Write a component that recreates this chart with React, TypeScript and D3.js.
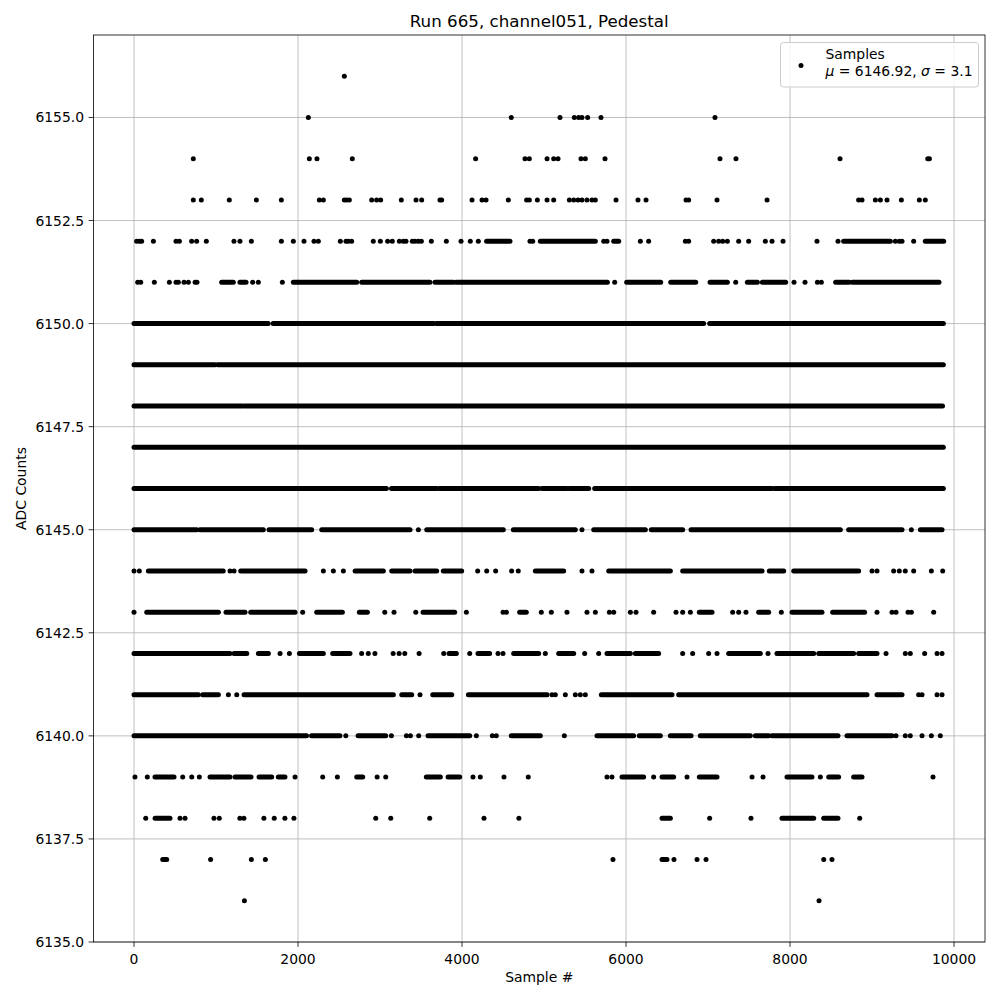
import React from "react";
import * as d3 from "d3";

// a sample entry is either one sample index or a run [first, last] of consecutive samples at that level
type Pt = number | [number, number];

const title = "Run 665, channel051, Pedestal";
const xLabel = "Sample #";
const yLabel = "ADC Counts";
const legendName = "Samples";
const mu = "6146.92";
const sigma = "3.1";

const xTicks = [0, 2000, 4000, 6000, 8000, 10000];
const yTicks = [6135, 6137.5, 6140, 6142.5, 6145, 6147.5, 6150, 6152.5, 6155];

const lvl6156: Pt[] = [2565];
const lvl6155: Pt[] = [2126, 4601, 5195, 5370, 5423, 5463, 5532, 5695, 7085];
const lvl6154: Pt[] = [723, 2138, 2231, 2662, 4166, 4768, 4821, 5037, 5118, 5171, 5451, 5504, 5744, 7146, 7341, 8610, [9680, 9700]];
const lvl6153: Pt[] = [723, 821, 1162, 1492, 1797, 2260, 2309, 2565, 2593, 2626, 2898, 2959, 3008, 3260, 3439, 3508, 3731, 3752,
  4122, 4244, 4293, 4565, 4788, 4821, 4919, 5037, 5118, 5309, 5362, 5415, 5463, 5524, 5585, 5626, 5878, 6146, 6244, 6732, 6764,
  7110, 7720, 8837, 8878, 9041, 9102, 9183, 9358, 9577, 9650];
const lvl6152: Pt[] = [32, 65, 93, 236, 512, 553, 703, 764, 882, 1219, 1292, 1431, 1797, 1943, 2073, 2195, 2248, 2516, 2585, 2614,
  2654, 2918, 3004, 3093, 3150, 3236, 3284, 3317, 3394, 3427, 3467, 3504, 3626, 3809, 3988, 4101, 4199, [4300, 4585], 4829, 4862,
  [4955, 5626], 5728, 5768, [5850, 5911], 6175, 6276, 6724, 6764, 7069, 7130, 7179, 7236, 7374, 7496, 7699, 7781, 7915, 8329, 8585,
  [8654, 9224], 9284, 9333, 9366, 9508, [9650, 9874]];
const lvl6151: Pt[] = [45, 82, 248, 431, 512, 541, 610, 663, 745, 768, [1069, 1211], [1292, 1366], 1447, 1516, 1809, [1943, 2716],
  [2777, 3610], [3671, 3894], [3927, 5773], 5862, [6008, 6423], [6545, 6850], [7025, 7236], 7338, [7480, 7602], [7663, 7947], 8049,
  8183, 8334, 8382, [8557, 8720], [8760, 9817]];
const lvl6150: Pt[] = [[0, 1636], [1697, 3655], [3688, 6947], [7020, 9870]];
const lvl6149: Pt[] = [[0, 990], [1020, 9870]];
const lvl6148: Pt[] = [[0, 1320], [1345, 9860]];
const lvl6147: Pt[] = [[0, 9870]];
const lvl6146: Pt[] = [[0, 2489], [2510, 3078], [3140, 3688], [3720, 4935], [4976, 5280], [5309, 5545], [5618, 7780], [7813, 9870]];
const lvl6145: Pt[] = [[0, 765], [805, 1577], [1647, 2167], [2289, 3366], 3468, [3570, 4504], [4626, 5382], 5463, [5606, 6236],
  [6309, 6691], [6793, 8614], [8715, 9366], 9480, [9590, 9854]];
const lvl6144: Pt[] = [0, 65, [175, 1088], 1171, 1220, [1301, 2086], 2309, 2431, 2553, [2696, 3041], [3143, 3366], [3427, 3691],
  [3772, 3996], 4191, 4301, 4410, 4605, 4686, [4894, 5240], 5463, 5585, [5789, 6541], [6691, 7659], [7748, 7923], [8045, 8837],
  9000, 9061, 9264, 9333, 9406, 9508, 9724, 9862];
const lvl6143: Pt[] = [0, [155, 1029], [1122, 1354], [1423, 1964], 2057, [2228, 2541], [2748, 2846], 3058, 3171, 3436, [3525, 3911],
  4053, 4500, 4541, [4703, 4784], 4967, 5089, 5280, 5524, 5626, 5797, 5850, 6053, 6122, 6337, 6610, 6691, 6785, [6894, 7049], 7301,
  7374, 7463, [7618, 7740], 7894, [8025, 8390], [8520, 8910], 9061, 9244, 9293, 9439, 9480, 9752];
const lvl6142: Pt[] = [[0, 1171], [1220, 1375], [1517, 1639], 1781, 1895, [2017, 2309], [2423, 2634], 2776, 2857, 2938, 3160, 3233,
  3302, 3477, 3777, [3842, 3931], 4094, [4195, 4337], 4439, 4500, [4630, 4935], 5016, [5179, 5362], 5496, 5667, [5768, 6053],
  [6114, 6398], 6691, 6813, 7008, 7110, [7252, 7638], 7732, [7841, 8289], [8350, 8776], [8837, 9061], 9171, 9406, 9467, 9642, 9793, 9854];
const lvl6141: Pt[] = [[0, 785], [838, 1029], 1151, 1253, [1342, 3163], [3265, 3387], 3488, [3643, 3875], [4078, 5037], 5098, 5138,
  5260, 5382, 5443, 5504, [5699, 6561], [6642, 8939], [9061, 9366], 9569, 9610, 9793, 9854];
const lvl6140: Pt[] = [[0, 2104], [2165, 2511], 2583, [2733, 3070], 3139, 3322, 3371, 3472, [3586, 4094], 4175, 4370, 4418,
  [4601, 4955], 5248, [5646, 6093], [6162, 6419], [6541, 6793], [6906, 7516], [7577, 7740], [7780, 8585], [8695, 9244], 9293, 9406,
  9467, 9610, 9724, 9833];
const lvl6139: Pt[] = [12, 162, [256, 488], 594, 704, 797, [927, 1171], [1232, 1427], [1525, 1679], [1760, 1841], 1964, 2301, 2480,
  [2716, 2789], 2965, 3070, [3565, 3736], [3830, 3972], 4134, 4223, 4512, 4808, 5768, 5829, [5951, 6215], 6337, [6439, 6581], 6744,
  [6894, 7110], 7537, 7671, [7963, 8268], 8370, [8472, 8593], [8776, 8878], 9744];
const lvl6138: Pt[] = [143, [257, 439], 561, 622, 975, 1040, 1291, 1340, 1584, 1710, 1840, 1950, 2948, 3131, 3606, 4268, 4694,
  [6439, 6541], 7020, 7524, [7902, 8289], [8411, 8585], 8850];
const lvl6137: Pt[] = [[350, 399], 934, 1431, 1602, 5841, [6439, 6500], 6585, 6866, 6976, 8411, 8512];
const lvl6136: Pt[] = [1346, 8354];

const levels: [number, Pt[]][] = [
  [6156, lvl6156], [6155, lvl6155], [6154, lvl6154], [6153, lvl6153], [6152, lvl6152], [6151, lvl6151],
  [6150, lvl6150], [6149, lvl6149], [6148, lvl6148], [6147, lvl6147], [6146, lvl6146], [6145, lvl6145],
  [6144, lvl6144], [6143, lvl6143], [6142, lvl6142], [6141, lvl6141], [6140, lvl6140], [6139, lvl6139],
  [6138, lvl6138], [6137, lvl6137], [6136, lvl6136],
];

const font = "DejaVu Sans, sans-serif";

export default function App() {
  const W = 1000, H = 1000;
  const left = 93.5, right = 985, top = 35, bottom = 942;
  const x = d3.scaleLinear().domain([-494, 10378]).range([left, right]);
  const y = d3.scaleLinear().domain([6135, 6157]).range([bottom, top]);
  const r = 2.5;
  const grid = "#b0b0b0";

  return (
    <svg width={W} height={H} style={{ position: "absolute", left: 0, top: 0, background: "#fff" }}
      fontFamily={font}>
      <rect x={0} y={0} width={W} height={H} fill="#fff" />
      {/* grid */}
      <g stroke={grid} strokeWidth={0.8}>
        {xTicks.map((t) => <line key={"gx" + t} x1={x(t)} x2={x(t)} y1={top} y2={bottom} />)}
        {yTicks.map((t) => <line key={"gy" + t} x1={left} x2={right} y1={y(t)} y2={y(t)} />)}
      </g>
      {/* samples */}
      <g fill="#000" stroke="#000">
        {levels.map(([v, pts]) =>
          pts.map((p, i) =>
            typeof p === "number"
              ? <circle key={v + "_" + i} cx={x(p)} cy={y(v)} r={r} stroke="none" />
              : <line key={v + "_" + i} x1={x(p[0])} x2={x(p[1])} y1={y(v)} y2={y(v)}
                  strokeWidth={2 * r} strokeLinecap="round" />
          )
        )}
      </g>
      {/* spines */}
      <rect x={left} y={top} width={right - left} height={bottom - top} fill="none" stroke="#000" strokeWidth={0.8} />
      {/* x ticks */}
      <g fontSize={13.9} fill="#000">
        {xTicks.map((t) => (
          <g key={"xt" + t}>
            <line x1={x(t)} x2={x(t)} y1={bottom} y2={bottom + 4.9} stroke="#000" strokeWidth={0.8} />
            <text x={x(t)} y={bottom + 21.5} textAnchor="middle">{t}</text>
          </g>
        ))}
        {yTicks.map((t) => (
          <g key={"yt" + t}>
            <line x1={left - 4.9} x2={left} y1={y(t)} y2={y(t)} stroke="#000" strokeWidth={0.8} />
            <text x={left - 9.5} y={y(t)} dy="0.36em" textAnchor="end">{t.toFixed(1)}</text>
          </g>
        ))}
      </g>
      <text x={(left + right) / 2} y={982} textAnchor="middle" fontSize={13.9}>{xLabel}</text>
      <text transform={`translate(26,${(top + bottom) / 2}) rotate(-90)`} textAnchor="middle" fontSize={13.9}>{yLabel}</text>
      <text x={(left + right) / 2} y={27} textAnchor="middle" fontSize={16.7}>{title}</text>
      {/* legend */}
      <g>
        <rect x={780.5} y={42.5} width={198} height={44.5} rx={3} fill="#fff" fillOpacity={0.8} stroke="#cccccc" strokeWidth={1} />
        <circle cx={801} cy={65.5} r={r} fill="#000" />
        <text x={825.5} y={59} fontSize={13.9}>{legendName}</text>
        <text x={825.5} y={76} fontSize={13.9}>
          <tspan fontStyle="italic">μ</tspan>
          <tspan>{` = ${mu}, `}</tspan>
          <tspan fontStyle="italic">σ</tspan>
          <tspan>{` = ${sigma}`}</tspan>
        </text>
      </g>
    </svg>
  );
}
